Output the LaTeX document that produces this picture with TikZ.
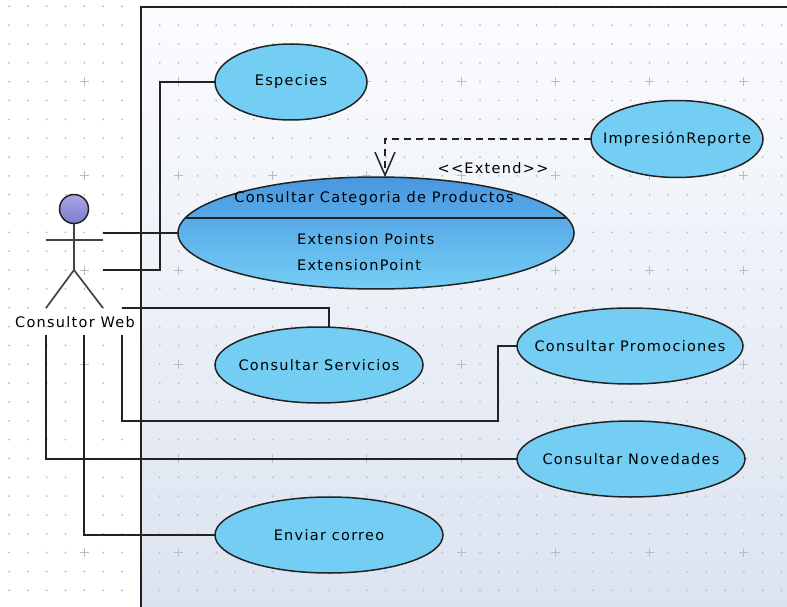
\documentclass[tikz,border=0pt]{standalone}
\usepackage{fontspec}
\setmainfont[LetterSpace=8.8]{DejaVu Sans}
\usetikzlibrary{shapes.geometric}
\usetikzlibrary{arrows.meta}
\definecolor{usecase}{HTML}{74CEF4}
\definecolor{usetop}{HTML}{4896E2}
\definecolor{linedark}{HTML}{222222}
\definecolor{griddot}{HTML}{B8BCC4}
\definecolor{headtop}{HTML}{A9A6E8}
\definecolor{headbot}{HTML}{7F7CCB}
\definecolor{fondotop}{HTML}{FBFCFE}
\definecolor{fondobot}{HTML}{DCE3F0}
\tikzset{
	caso/.style={draw=linedark, line width=1.5pt, ellipse, fill=usecase, inner sep=-30pt, outer sep=0pt, font=\fontsize{14.5}{16}\selectfont},
	enlace/.style={draw=linedark, line width=1.4pt},
	monigote/.style={draw=linedark!85, line width=1.7pt},
	rotulo/.style={inner sep=0pt, font=\fontsize{14.5}{16}\selectfont}
}

\begin{document}
\begin{tikzpicture}[x=1pt,y=-1pt]
	\useasboundingbox (0,0) rectangle (787,607);
	\fill[white] (0,0) rectangle (787,607);
	\shade[top color=fondotop, bottom color=fondobot] (141,7) rectangle (787,607);
	% grid
	\foreach \i in {0,...,41}{
		\foreach \j in {0,...,31}{
			\fill[griddot] (9+18.84*\i,6.3+18.84*\j) circle (1);
		}
	}
	\foreach \i in {4,9,...,39}{
		\foreach \j in {4,9,...,29}{
			\draw[griddot, line width=1pt] (9+18.84*\i-4.5,6.3+18.84*\j) -- +(9,0) (9+18.84*\i,6.3+18.84*\j-4.5) -- +(0,9);
		}
	}
	\draw[linedark, line width=1.5pt] (787,7) -- (141,7) -- (141,607);
	% casos de uso
	\node[caso, minimum width=152pt, minimum height=76pt] (especies) at (291,82){Especies};
	\node[caso, minimum width=172pt, minimum height=77pt] (impresion) at (677,139){ImpresiónReporte};
	\node[caso, minimum width=396pt, minimum height=112pt, shade, top color=usetop, bottom color=usecase] (categoria) at (376,233){};
	\node[rotulo] (titulo) at (374,198){Consultar Categoria de Productos};
	\node[rotulo, anchor=west] (puntos) at (297,239){Extension Points};
	\node[rotulo, anchor=west] (punto) at (297,265){ExtensionPoint};
	\node[caso, minimum width=208pt, minimum height=76pt] (servicios) at (319,365){Consultar Servicios};
	\node[caso, minimum width=226pt, minimum height=76pt] (promociones) at (630,346){Consultar Promociones};
	\node[caso, minimum width=228pt, minimum height=76pt] (novedades) at (631,459){Consultar Novedades};
	\node[caso, minimum width=228pt, minimum height=76pt] (correo) at (329,535){Enviar correo};
	\coordinate (sepizq) at (185,218);
	\coordinate (sepder) at (567,218);
	\draw[enlace] (sepizq) -- (sepder);
	% actor
	\node[circle, draw=linedark, line width=1.5pt, minimum size=29pt, inner sep=0pt, outer sep=0pt, top color=headtop, bottom color=headbot] (cabeza) at (74,209){};
	\coordinate (cadera) at (74,270);
	\coordinate (manoizq) at (46,240);
	\coordinate (manoder) at (103,240);
	\coordinate (pieizq) at (46,308);
	\coordinate (pieder) at (103,308);
	\draw[monigote] (cabeza) -- (cadera);
	\draw[monigote] (manoizq) -- (manoder);
	\draw[monigote] (pieizq) -- (cadera) -- (pieder);
	\node[rotulo] (actor) at (75,322){Consultor Web};
	% extremos libres
	\coordinate (a1) at (103,270);
	\coordinate (a2) at (103,233);
	\coordinate (a3) at (122,308);
	\coordinate (a4) at (122,335);
	\coordinate (a5) at (46,335);
	\coordinate (a6) at (84,335);
	% enlaces
	\draw[enlace] (especies.west) -- (160,82) -- (160,270) -- (a1);
	\draw[enlace] (a2) -- (categoria.west);
	\draw[enlace] (a3) -- (329,308) -- (329,327);
	\draw[enlace] (a4) -- (122,421) -- (498,421) -- (498,346) -- (promociones.west);
	\draw[enlace] (a5) -- (46,459) -- (novedades.west);
	\draw[enlace] (a6) -- (84,535) -- (correo.west);
	\draw[enlace, dash pattern=on 7pt off 5pt, -{Straight Barb[length=23pt,width=20pt,line width=1.5pt]}] (impresion.west) -- (385,139) -- (385,177);
	\node[rotulo] (extend) at (493,168){<{}<Extend>{}>};
\end{tikzpicture}
\end{document}
